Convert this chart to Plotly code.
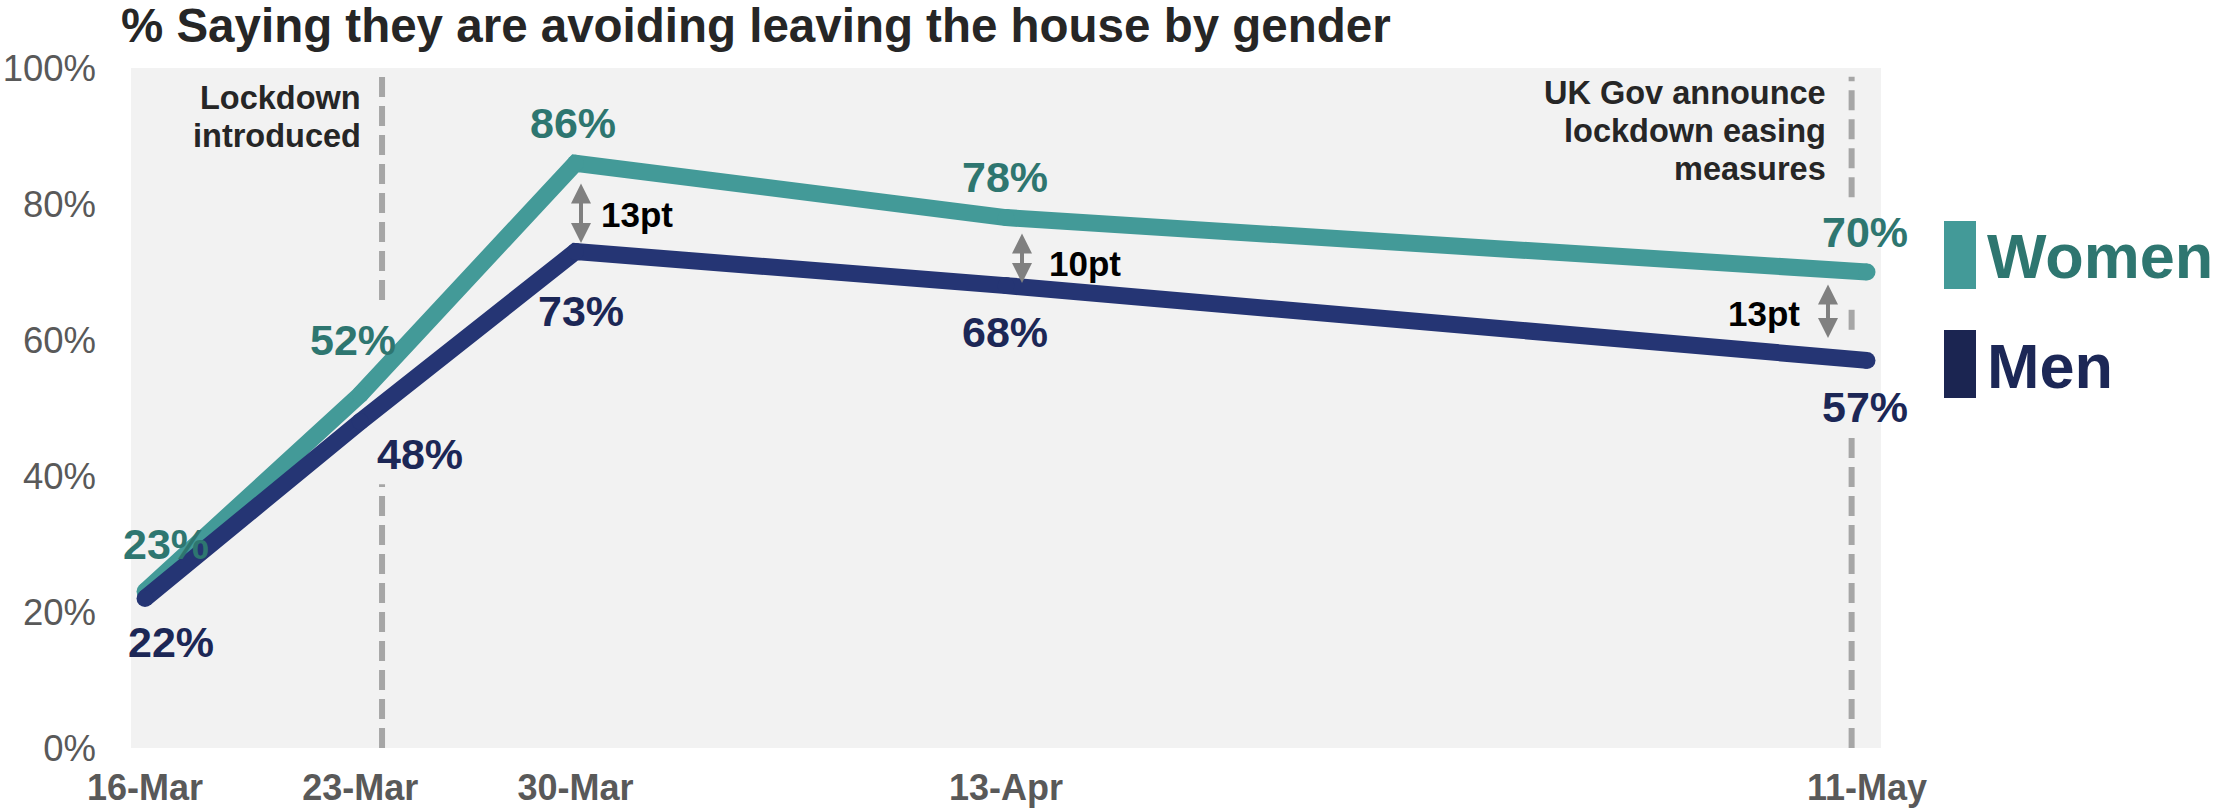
import plotly.graph_objects as go
import pandas as pd

# ---------------- data ----------------
dates = ["2020-03-16", "2020-03-23", "2020-03-30", "2020-04-13", "2020-05-11"]
date_labels = ["16-Mar", "23-Mar", "30-Mar", "13-Apr", "11-May"]
women = [23, 52, 86, 78, 70]
men = [22, 48, 73, 68, 57]
series_names = ["Women", "Men"]
y_tick_vals = [0, 20, 40, 60, 80, 100]
y_tick_text = ["0%", "20%", "40%", "60%", "80%", "100%"]
event_dates = ["2020-03-23 17:00", "2020-05-10 12:00"]
event_labels = [["Lockdown", "introduced"], ["UK Gov announce", "lockdown easing", "measures"]]
gap_points = [2, 3, 4]  # indices where the gap between women and men is marked

title = "% Saying they are avoiding leaving the house by gender"

# ---------------- style ----------------
FONT = "Arial, 'Liberation Sans', sans-serif"
W_LINE = "#439A98"
W_TEXT = "#2E7670"
M_LINE = "#253574"
M_TEXT = "#1C2756"
M_RECT = "#1B2551"
GREY_TXT = "#595959"
DARK = "#262626"
DASH = "#A6A6A6"
ARROW = "#808080"
BG = "#F2F2F2"

W, H = 2213, 812
L, R, T, B = 131, 332, 68, 64
PW, PH = W - L - R, H - T - B


def px(xpix):
    return (xpix - L) / PW


def py(ypix):
    return (H - B - ypix) / PH


fig = go.Figure()

LW = 17
for vals, name, col in [(women, series_names[0], W_LINE), (men, series_names[1], M_LINE)]:
    fig.add_trace(go.Scatter(
        x=pd.to_datetime(dates), y=vals, name=name, mode="lines+markers",
        line=dict(color=col, width=LW),
        marker=dict(size=LW, color=col, line=dict(width=0)),
        cliponaxis=False, hoverinfo="skip", showlegend=False,
    ))

annotations = []

# value labels (pixel offsets from each point)
VAL_FS = 43
w_shift = [(21, 48), (-7, 54), (-3, 40), (-1, 41), (-2, 40)]
m_shift = [(26, -44), (60, -32), (5, -59), (-1, -46), (-2, -47)]
for i, d in enumerate(dates):
    annotations.append(dict(x=d, y=women[i], xref="x", yref="y", text=f"<b>{women[i]}%</b>",
                            showarrow=False, xshift=w_shift[i][0], yshift=w_shift[i][1],
                            font=dict(family=FONT, size=VAL_FS, color=W_TEXT)))
    annotations.append(dict(x=d, y=men[i], xref="x", yref="y", text=f"<b>{men[i]}%</b>",
                            showarrow=False, xshift=m_shift[i][0], yshift=m_shift[i][1],
                            font=dict(family=FONT, size=VAL_FS, color=M_TEXT)))

# gap arrows + labels
arrow_cfg = {2: dict(xs=5.5, ys=8.6, ay=-61, tx=23.5, ty=37, anchor="left"),
             3: dict(xs=16, ys=2.6, ay=-51, tx=41, ty=22.6, anchor="left"),
             4: dict(xs=-39, ys=22.4, ay=-55, tx=-65, ty=47, anchor="right")}
for i in gap_points:
    c = arrow_cfg[i]
    annotations.append(dict(x=dates[i], y=men[i], xref="x", yref="y", text="",
                            showarrow=True, ax=0, ay=c["ay"], xshift=c["xs"], yshift=c["ys"],
                            arrowside="end+start", arrowhead=2, arrowsize=1, arrowwidth=4,
                            arrowcolor=ARROW, standoff=0, startstandoff=0))
    annotations.append(dict(x=dates[i], y=men[i], xref="x", yref="y",
                            text=f"<b>{women[i] - men[i]}pt</b>", showarrow=False,
                            xanchor=c["anchor"], xshift=c["tx"], yshift=c["ty"],
                            font=dict(family=FONT, size=35, color="#000000")))

# event labels (one annotation per line for tight line spacing)
EV_FS = 32.5
for d, lines, first_y, xs in [(event_dates[0], event_labels[0], 98, -19),
                              (event_dates[1], event_labels[1], 93, -24)]:
    for k, line in enumerate(lines):
        annotations.append(dict(x=d, y=py(first_y + k * 38), xref="x", yref="paper",
                                text=f"<b>{line}</b>", showarrow=False, xanchor="right",
                                yanchor="middle", xshift=xs,
                                font=dict(family=FONT, size=EV_FS, color=DARK)))

# legend
shapes = []
for name, rect_col, txt_col, y0, y1, yc in [
        (series_names[0], W_LINE, W_TEXT, 221, 289, 256),
        (series_names[1], M_RECT, M_TEXT, 330, 398, 366)]:
    shapes.append(dict(type="rect", xref="paper", yref="paper", x0=px(1944), x1=px(1976),
                       y0=py(y1), y1=py(y0), fillcolor=rect_col, line=dict(width=0)))
    annotations.append(dict(x=px(1985), y=py(yc), xref="paper", yref="paper",
                            text=f"<b>{name}</b>", showarrow=False, xanchor="left",
                            yanchor="middle", font=dict(family=FONT, size=63, color=txt_col)))

# dashed event lines (segments interrupted around labels)
dash_style = dict(color=DASH, width=6, dash="20px,9px")
for d, segs in [(event_dates[0], [(0, 38.8), (65.9, 99.5)]),
                (event_dates[1], [(0, 46.5), (61.5, 64.9), (81, 98.7)])]:
    for y0, y1 in segs:
        shapes.append(dict(type="line", xref="x", yref="y", x0=d, x1=d, y0=y0, y1=y1,
                           line=dash_style, layer="below"))

fig.update_layout(
    width=W, height=H, autosize=False,
    margin=dict(l=L, r=R, t=T, b=B),
    paper_bgcolor="white", plot_bgcolor=BG,
    title=dict(text=f"<b>{title}</b>", xref="container", x=121 / W, xanchor="left",
               yref="container", y=1 - 25 / H, yanchor="middle",
               font=dict(family=FONT, size=47.5, color=DARK)),
    xaxis=dict(type="date", range=["2020-03-15 13:04", "2020-05-11 10:56"],
               tickvals=dates, ticktext=date_labels, showgrid=False, zeroline=False,
               showline=False, ticks="", ticklabelstandoff=15, automargin=False,
               tickfont=dict(family=FONT, size=36, color=GREY_TXT, weight="bold")),
    yaxis=dict(range=[0, 100], tickvals=y_tick_vals, ticktext=y_tick_text,
               showgrid=False, zeroline=False, showline=False, ticks="",
               ticklabelstandoff=34, automargin=False,
               tickfont=dict(family=FONT, size=36.5, color=GREY_TXT)),
    annotations=annotations, shapes=shapes, showlegend=False,
)

fig.write_html(
    "out.html",
    config={"displayModeBar": False},
    post_script="document.body.style.margin='0';document.body.style.padding='0';"
                "document.body.style.overflow='hidden';",
)
